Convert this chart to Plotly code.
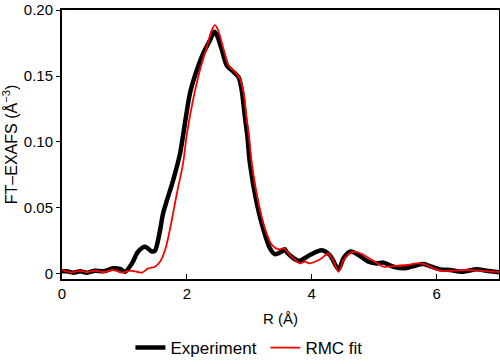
import plotly.graph_objects as go

exp_r = [0.0, 0.075, 0.18, 0.29, 0.4, 0.53, 0.66, 0.82, 0.93, 1.01, 1.12, 1.22, 1.33, 1.44, 1.49, 1.57, 1.62, 1.78, 1.89, 1.94,
         2.05, 2.16, 2.26, 2.37, 2.44, 2.48, 2.56, 2.64, 2.75, 2.83, 2.88, 2.93, 2.97, 3.01, 3.12, 3.23, 3.33, 3.41, 3.52, 3.57,
         3.6, 3.79, 3.97, 4.16, 4.29, 4.43, 4.51, 4.62, 4.75, 4.91, 5.04, 5.15, 5.31, 5.5, 5.63, 5.79, 5.92, 6.06, 6.22, 6.4,
         6.65, 6.8, 7.0]
exp_ft = [0.002, 0.002, 0.001, 0.002, 0.001, 0.0025, 0.002, 0.0043, 0.0038, 0.0017, 0.008, 0.017, 0.0207, 0.017, 0.0177, 0.033, 0.046, 0.071, 0.091, 0.105,
          0.137, 0.1545, 0.167, 0.177, 0.1836, 0.181, 0.170, 0.158, 0.153, 0.149, 0.139, 0.119, 0.104, 0.084, 0.0535, 0.033, 0.0195, 0.015, 0.017, 0.0187,
          0.0165, 0.010, 0.0144, 0.018, 0.0144, 0.0035, 0.012, 0.017, 0.0144, 0.0093, 0.008, 0.0086, 0.0055, 0.0043, 0.006, 0.0076, 0.0055, 0.0035, 0.003, 0.0017,
          0.0035, 0.0025, 0.0013]

fit_r = [0.0, 0.05, 0.18, 0.29, 0.4, 0.53, 0.66, 0.82, 0.96, 1.09, 1.2, 1.28, 1.38, 1.49, 1.57, 1.65, 1.73, 1.84, 1.94, 2.0,
         2.1, 2.21, 2.32, 2.4, 2.45, 2.5, 2.59, 2.67, 2.77, 2.85, 2.91, 2.96, 2.99, 3.04, 3.15, 3.25, 3.36, 3.47, 3.55,
         3.68, 3.81, 3.89, 3.97, 4.05, 4.16, 4.27, 4.35, 4.43, 4.51, 4.62, 4.7, 4.83, 4.99, 5.15, 5.31, 5.52, 5.68, 5.79,
         5.95, 6.06, 6.27, 6.48, 6.7, 6.91, 7.0]
fit_ft = [0.003, 0.0022, 0.0013, 0.0025, 0.0013, 0.0025, 0.0013, 0.003, 0.001, 0.0025, 0.0017, 0.001, 0.0043, 0.0055, 0.0093, 0.018, 0.034, 0.061, 0.084, 0.106,
          0.132, 0.1545, 0.172, 0.1848, 0.1886, 0.1848, 0.170, 0.158, 0.153, 0.148, 0.137, 0.1167, 0.1066, 0.084, 0.0535, 0.0346, 0.022, 0.0187, 0.0195,
          0.013, 0.008, 0.0093, 0.008, 0.0093, 0.012, 0.0157, 0.0093, 0.0017, 0.0106, 0.016, 0.017, 0.0144, 0.010, 0.0055, 0.006, 0.0068, 0.008, 0.0076,
          0.0043, 0.0025, 0.0025, 0.003, 0.0025, 0.0017, 0.0016]

y_ticks = [0, 0.05, 0.10, 0.15, 0.20]
y_ticklabels = ["0", "0.05", "0.10", "0.15", "0.20"]
x_ticks = [0, 2, 4, 6]

fig = go.Figure()
fig.add_trace(go.Scatter(x=exp_r, y=exp_ft, mode="lines", name="Experiment",
                         line=dict(color="black", width=4.5, shape="spline", smoothing=0.8)))
fig.add_trace(go.Scatter(x=fit_r, y=fit_ft, mode="lines", name="RMC fit",
                         line=dict(color="#ff0000", width=1.8, shape="spline", smoothing=0.8)))

fam = "Liberation Sans, Arial, sans-serif"
tickfont = dict(family=fam, size=15, color="black")
fig.update_layout(
    width=500, height=364,
    margin=dict(l=62, r=1, t=10, b=85, autoexpand=False),
    paper_bgcolor="white", plot_bgcolor="white",
    font=dict(family=fam, size=15, color="black"),
    showlegend=True,
    legend=dict(orientation="h", x=0.4655, xanchor="center", y=-0.2565, yanchor="middle",
                font=dict(family=fam, size=17, color="black"), itemwidth=30, tracegroupgap=0,
                entrywidth=90, entrywidthmode="pixels",
                bgcolor="rgba(0,0,0,0)"),
)
fig.update_xaxes(range=[0, 7], tickvals=x_ticks, ticks="inside", ticklen=5, tickwidth=1, tickcolor="black",
                 showline=True, linewidth=2, linecolor="black", mirror=True, showgrid=False, zeroline=False,
                 automargin=False,
                 title=dict(text="R (Å)", standoff=12, font=dict(family=fam, size=15, color="black")),
                 tickfont=tickfont)
fig.update_yaxes(range=[-0.0038, 0.2], tickvals=y_ticks, ticktext=y_ticklabels, ticks="outside", ticklen=4,
                 tickwidth=1, tickcolor="black",
                 showline=True, linewidth=2, linecolor="black", mirror=True, showgrid=False, zeroline=False,
                 automargin=False,
                 title=dict(text="FT–EXAFS (Å<sup>−3</sup>)", standoff=8, font=dict(family=fam, size=16, color="black")),
                 tickfont=tickfont)

fig.write_html("out.html", config={"displayModeBar": False},
               post_script="document.body.style.margin='0px';document.body.style.padding='0px';")
